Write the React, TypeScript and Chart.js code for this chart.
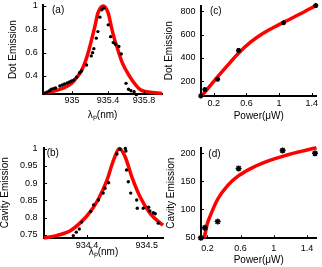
import React, { useEffect, useRef } from "react";
import { Chart, registerables } from "chart.js";
Chart.register(...registerables);

const FONT = "'Liberation Sans', Arial, Helvetica, sans-serif";

// Panel (a): dot emission vs wavelength
const aDotX = [934.698, 934.724, 934.75, 934.769, 934.798, 934.817, 934.864, 934.891, 934.917, 934.947, 934.972, 934.994, 935.02, 935.05, 935.083, 935.106, 935.161, 935.213, 935.228, 935.242, 935.269, 935.287, 935.309, 935.331, 935.35, 935.402, 935.428, 935.458, 935.483, 935.52, 935.547, 935.6, 935.628, 935.655, 935.69, 935.715];
const aDotY = [0.252, 0.263, 0.274, 0.286, 0.294, 0.297, 0.314, 0.323, 0.331, 0.34, 0.348, 0.357, 0.366, 0.389, 0.428, 0.443, 0.494, 0.572, 0.6, 0.634, 0.724, 0.78, 0.904, 0.967, 0.981, 0.838, 0.737, 0.686, 0.672, 0.652, 0.589, 0.337, 0.286, 0.274, 0.265, 0.24];
const aFitX = [934.68, 934.8, 934.9, 935.0, 935.058, 935.1, 935.15, 935.187, 935.22, 935.253, 935.287, 935.347, 935.402, 935.436, 935.47, 935.51, 935.56, 935.642, 935.7, 935.76, 935.85, 936.0];
const aFitY = [0.25, 0.27, 0.295, 0.34, 0.394, 0.44, 0.53, 0.623, 0.72, 0.823, 0.938, 1.0, 0.938, 0.823, 0.72, 0.623, 0.51, 0.394, 0.33, 0.282, 0.262, 0.25];
const aXTicks = [935, 935.4, 935.8];
const aYTicks = [0.4, 0.6, 0.8, 1];

// Panel (b): cavity emission vs wavelength
const bDotX = [934.377, 934.382, 934.387, 934.391, 934.406, 934.411, 934.419, 934.427, 934.43, 934.436, 934.45, 934.455, 934.464, 934.465, 934.466, 934.469, 934.473, 934.483, 934.484, 934.494, 934.503, 934.505, 934.511, 934.514, 934.519];
const bDotY = [0.748, 0.758, 0.767, 0.787, 0.818, 0.837, 0.851, 0.871, 0.885, 0.901, 0.984, 0.998, 1.0, 0.993, 0.938, 0.904, 0.871, 0.851, 0.827, 0.827, 0.83, 0.819, 0.814, 0.811, 0.784];
const bFitX = [934.328, 934.349, 934.372, 934.388, 934.405, 934.419, 934.433, 934.444, 934.454, 934.464, 934.475, 934.489, 934.506, 934.527];
const bFitY = [0.741, 0.748, 0.762, 0.784, 0.816, 0.854, 0.907, 0.965, 1.0, 0.975, 0.917, 0.859, 0.811, 0.778];
const bXTicks = [934.4, 934.5];
const bYTicks = [0.75, 0.8, 0.85, 0.9, 0.95, 1];

// Panel (c): dot emission vs power
const cDotX = [0.04, 0.09, 0.247, 0.503, 1.055, 1.45];
const cDotY = [72, 127, 216, 464, 702, 850];
const cFitX = [0.05, 0.2, 0.35, 0.5, 0.65, 0.8, 0.95, 1.1, 1.25, 1.45];
const cFitY = [70, 198, 320, 438, 535, 610, 668, 722, 775, 850];
const cXTicks = [0.2, 0.6, 1, 1.4];
const cYTicks = [200, 400, 600, 800];

// Panel (d): cavity emission vs power
const dDotX = [0.12, 0.169, 0.323, 0.576, 1.107, 1.498];
const dDotY = [49, 67, 78, 173, 205, 200];
const dFitX = [0.16, 0.2, 0.227, 0.323, 0.44, 0.576, 0.75, 0.944, 1.137, 1.331, 1.486, 1.516];
const dFitY = [48, 75, 86, 118, 142, 160, 175, 187, 196, 203.5, 209, 210];
const dXTicks = [0.2, 0.6, 1, 1.4];
const dYTicks = [50, 100, 150, 200];

type PanelCfg = {
  label: string; xTitle: string; yTitle: string;
  dotX: number[]; dotY: number[]; fitX: number[]; fitY: number[];
  xTicks: number[]; yTicks: number[];
  xMin: number; xMax: number; yMin: number; yMax: number;
  pad: { left: number; top: number; right: number; bottom: number };
  yW: number; xH: number; xTickPad: number; yTickPad: number;
  marker: string; r: number; bw: number; lx: number; ly: number;
};

const panels: PanelCfg[] = [
  { label: "(a)", xTitle: "λₚ(nm)", yTitle: "Dot Emission", dotX: aDotX, dotY: aDotY, fitX: aFitX, fitY: aFitY,
    xTicks: aXTicks, yTicks: aYTicks, xMin: 934.68, xMax: 936.0, yMin: 0.243, yMax: 1.008,
    pad: { left: 8.3, top: 5, right: 160, bottom: 147 }, yW: 35, xH: 25.7, xTickPad: 1, yTickPad: 5.5,
    marker: "circle", r: 1.7, bw: 0, lx: 8.7, ly: 5 },
  { label: "(c)", xTitle: "Power(μW)", yTitle: "Dot Emission", dotX: cDotX, dotY: cDotY, fitX: cFitX, fitY: cFitY,
    xTicks: cXTicks, yTicks: cYTicks, xMin: 0.043, xMax: 1.459, yMin: 71, yMax: 851,
    pad: { left: 164.3, top: 5, right: 1, bottom: 145.3 }, yW: 36.7, xH: 25.7, xTickPad: 2.4, yTickPad: 5.5,
    marker: "star", r: 2.5, bw: 1.5, lx: 9, ly: 5.8 },
  { label: "(b)", xTitle: "λₚ(nm)", yTitle: "Cavity Emission", dotX: bDotX, dotY: bDotY, fitX: bFitX, fitY: bFitY,
    xTicks: bXTicks, yTicks: bYTicks, xMin: 934.328, xMax: 934.527, yMin: 0.741, yMax: 1.003,
    pad: { left: 0.5, top: 147.5, right: 159, bottom: 9.7 }, yW: 43.5, xH: 19.3, xTickPad: 2, yTickPad: 6.5,
    marker: "circle", r: 1.7, bw: 0, lx: 2.7, ly: 6 },
  { label: "(d)", xTitle: "Power(μW)", yTitle: "Cavity Emission", dotX: dDotX, dotY: dDotY, fitX: dFitX, fitY: dFitY,
    xTicks: dXTicks, yTicks: dYTicks, xMin: 0.122, xMax: 1.516, yMin: 48.2, yMax: 209.5,
    pad: { left: 166, top: 148, right: 1, bottom: 1.3 }, yW: 35, xH: 27.4, xTickPad: 5, yTickPad: 5.5,
    marker: "star", r: 3, bw: 1.5, lx: 7.3, ly: 6 },
];

const innerTicks = {
  id: "innerTicks",
  afterDraw(chart: any) {
    const { ctx, chartArea, scales } = chart;
    ctx.save();
    ctx.strokeStyle = "#000";
    ctx.lineWidth = 1;
    scales.x.ticks.forEach((t: any) => {
      const px = Math.round(scales.x.getPixelForValue(t.value)) + 0.5;
      ctx.beginPath(); ctx.moveTo(px, chartArea.bottom); ctx.lineTo(px, chartArea.bottom - 3); ctx.stroke();
    });
    scales.y.ticks.forEach((t: any) => {
      const py = Math.round(scales.y.getPixelForValue(t.value)) + 0.5;
      ctx.beginPath(); ctx.moveTo(chartArea.left, py); ctx.lineTo(chartArea.left + 3, py); ctx.stroke();
    });
    ctx.restore();
  },
};

function Panel({ cfg }: { cfg: PanelCfg }) {
  const ref = useRef<HTMLCanvasElement>(null);
  useEffect(() => {
    const labelPlugin = {
      id: "panelLabel",
      afterDraw(chart: any) {
        const { ctx, chartArea } = chart;
        ctx.save();
        ctx.fillStyle = "#000";
        ctx.font = `10px ${FONT}`;
        ctx.textAlign = "left";
        ctx.textBaseline = "middle";
        ctx.fillText(cfg.label, chartArea.left + cfg.lx, chartArea.top + cfg.ly);
        ctx.restore();
      },
    };
    const tickFont = { family: FONT, size: 9 };
    const titleFont = { family: FONT, size: 10, lineHeight: 1 };
    const chart = new Chart(ref.current as HTMLCanvasElement, {
      type: "scatter",
      data: {
        datasets: [
          {
            data: cfg.dotX.map((x, i) => ({ x, y: cfg.dotY[i] })),
            pointStyle: cfg.marker as any,
            pointRadius: cfg.r,
            backgroundColor: "#000",
            borderColor: "#000",
            borderWidth: cfg.bw,
            showLine: false,
            clip: false as any,
          },
          {
            data: cfg.fitX.map((x, i) => ({ x, y: cfg.fitY[i] })),
            showLine: true,
            borderColor: "#ff0000",
            borderWidth: 3.5,
            pointRadius: 0,
            cubicInterpolationMode: "monotone",
            fill: false,
            clip: false as any,
          } as any,
        ],
      },
      options: {
        animation: false,
        responsive: false,
        maintainAspectRatio: false,
        events: [],
        layout: { padding: cfg.pad },
        plugins: { legend: { display: false }, tooltip: { enabled: false } },
        scales: {
          x: {
            type: "linear",
            min: cfg.xMin,
            max: cfg.xMax,
            afterBuildTicks: (s: any) => { s.ticks = cfg.xTicks.map((v) => ({ value: v })); },
            afterFit: (s: any) => { s.height = cfg.xH; s.paddingLeft = 0; s.paddingRight = 0; },
            grid: { display: false, drawTicks: false },
            border: { display: true, color: "#000", width: 2 },
            ticks: { font: tickFont, color: "#000", padding: cfg.xTickPad, maxRotation: 0, autoSkip: false, callback: (v: any) => String(v) },
            title: { display: true, text: cfg.xTitle, font: titleFont, color: "#000", padding: { top: 0, bottom: 0 } },
          },
          y: {
            type: "linear",
            min: cfg.yMin,
            max: cfg.yMax,
            afterBuildTicks: (s: any) => { s.ticks = cfg.yTicks.map((v) => ({ value: v })); },
            afterFit: (s: any) => { s.width = cfg.yW; s.paddingTop = 0; s.paddingBottom = 0; },
            grid: { display: false, drawTicks: false },
            border: { display: true, color: "#000", width: 2 },
            ticks: { font: tickFont, color: "#000", padding: cfg.yTickPad, autoSkip: false, callback: (v: any) => String(v) },
            title: { display: true, text: cfg.yTitle, font: titleFont, color: "#000", padding: { top: 0, bottom: 0 } },
          },
        },
      } as any,
      plugins: [innerTicks, labelPlugin],
    });
    return () => chart.destroy();
  }, [cfg]);
  return (
    <canvas
      ref={ref}
      width={322}
      height={267}
      style={{ position: "absolute", left: 0, top: 0, width: 322, height: 267 }}
    />
  );
}

export default function App() {
  return (
    <div style={{ position: "fixed", left: 0, top: 0, width: 322, height: 267, background: "#fff", overflow: "hidden" }}>
      {panels.map((p) => (
        <Panel key={p.label} cfg={p} />
      ))}
    </div>
  );
}
